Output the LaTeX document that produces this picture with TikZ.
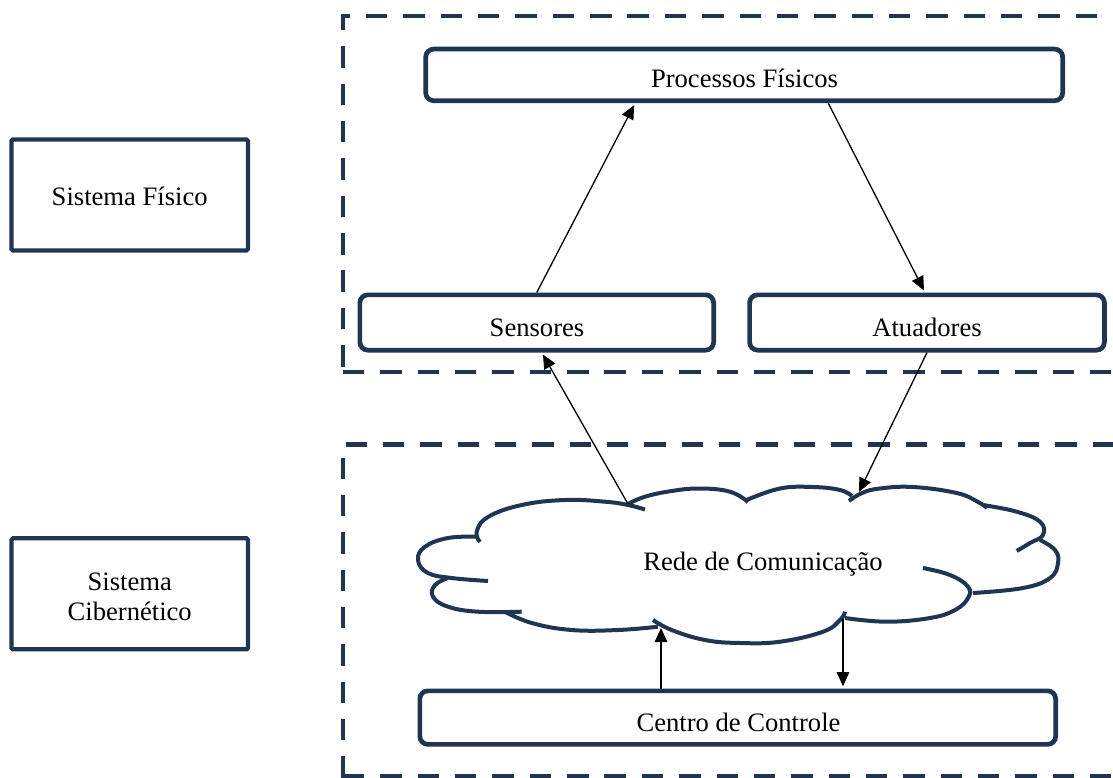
\documentclass[tikz,border=0pt]{standalone}
\usepackage{fontspec}
\setmainfont{Liberation Serif}
\usetikzlibrary{arrows.meta}
\definecolor{navy}{HTML}{1F3552}
\begin{document}
\begin{tikzpicture}[x=1pt,y=-1pt,
  sysbox/.style={draw=navy, line width=4.3pt, rounded corners=1.5pt, inner sep=0pt,
                 minimum width=236.4pt, minimum height=111pt},
  unit/.style={draw=navy, line width=4.7pt, rounded corners=8pt, inner sep=0pt},
  lbl/.style={font=\fontsize{26.6}{30}\selectfont, inner sep=0pt, anchor=base},
  zone/.style={draw=navy, line width=4.6pt, dash pattern=on 21.4pt off 15.95pt},
  flow/.style={draw=black, line width=1.3pt, -{Triangle[length=14pt,width=12.5pt]}},
  tobox/.style={shorten >=2.3pt},
  puff/.style={draw=navy, line width=4pt},
]
\useasboundingbox (0,0) rectangle (1113,778);

% dashed frames of the two layers
\draw[zone] (350,16) -- (343,16) -- (343,372);
\draw[zone] (366,16) -- (1125,16);
\draw[zone] (343,372) -- (1125,372);
\draw[zone] (345.5,444.5) -- (1125,444.5);
\draw[zone] (343,457.5) -- (343,778.3);
\draw[zone] (343,776) -- (1125,776);

% layer captions
\node[sysbox] (fis) at (129.7,195) {};
\node[lbl] (fisT) at (129.7,205) {Sistema Físico};
\node[sysbox] (cib) at (129.7,593.8) {};
\node[lbl] (cibA) at (129.7,590) {Sistema};
\node[lbl] (cibB) at (129.7,620) {Cibernético};

% physical layer
\node[unit, minimum width=637pt, minimum height=51.6pt] (proc) at (744.2,74.9) {};
\node[lbl] (procT) at (744.5,88) {Processos Físicos};
\node[unit, minimum width=353.8pt, minimum height=55.3pt] (sens) at (536.75,322.5) {};
\node[lbl] (sensT) at (537,336) {Sensores};
\node[unit, minimum width=354.8pt, minimum height=55.3pt] (atu) at (927,322.5) {};
\node[lbl] (atuT) at (927,336) {Atuadores};

% cyber layer: control centre
\node[unit, minimum width=635.8pt, minimum height=53.5pt] (ctrl) at (737.75,717.6) {};
\node[lbl] (ctrlT) at (738.5,731) {Centro de Controle};

% communication network cloud, drawn lobe by lobe
\begin{scope}[puff]
\draw plot[smooth, tension=0.7] coordinates {(480,542) (476.7,531.7) (488,517) (521.7,505) (565,500) (605,501.7) (628,505) (645,509.5)};
\draw plot[smooth, tension=0.7] coordinates {(628,504) (645,496.7) (671.7,491) (700,488.5) (730,491.7) (748,502)};
\draw plot[smooth, tension=0.7] coordinates {(746.7,500) (780,488.5) (813,487) (840,490) (852,496)};
\draw plot[smooth, tension=0.7] coordinates {(849,501) (862,493) (880,488.5) (913,487) (956.7,493) (978,502) (987,508)};
\draw plot[smooth, tension=0.7] coordinates {(983,505) (1016.7,511.7) (1040,521.7) (1043,535) (1030,543) (1016.7,551)};
\draw plot[smooth, tension=0.7] coordinates {(1040,540) (1055,550) (1058,563) (1050,578) (1023,588) (973,593)};
\draw plot[smooth, tension=0.7] coordinates {(923,568) (950,575) (968,586.7) (968,598) (955,610) (930,618) (886.7,621.7) (845,618)};
\draw plot[smooth, tension=0.7] coordinates {(845,611.7) (840,620) (823,631.7) (780,641.7) (740,643) (705,640) (671.7,630) (653,620)};
\draw plot[smooth, tension=0.7] coordinates {(658,626.7) (618,630) (571.7,630) (531.7,623) (505,611.7)};
\draw plot[smooth, tension=0.7] coordinates {(521.7,611.7) (478,611.7) (448,606.7) (433,596.7) (435,585) (448,578)};
\draw plot[smooth, tension=0.7] coordinates {(488,581) (451.7,578) (428,573) (418,560) (425,546.7) (448,538) (476.7,536.7)};
\end{scope}
\node[lbl] (net) at (763,570) {Rede de Comunicação};

% attachment points on the cloud outline
\coordinate (netS) at (628,504);
\coordinate (netA) at (859,492);
\coordinate (netU) at (661,628);
\coordinate (netD) at (843,619);

% information flow
\draw[flow, tobox] (sens.north) -- ([xshift=-109pt]proc.south);
\draw[flow, tobox] ([xshift=84pt]proc.south) -- ([xshift=-2pt]atu.north);
\draw[flow, tobox] (netS) -- ([xshift=5pt]sens.south);
\draw[flow] (atu.south) -- (netA);
\draw[flow] (ctrl.north -| netU) -- (netU);
\draw[flow, tobox] (netD) -- (ctrl.north -| netD);
\end{tikzpicture}
\end{document}
